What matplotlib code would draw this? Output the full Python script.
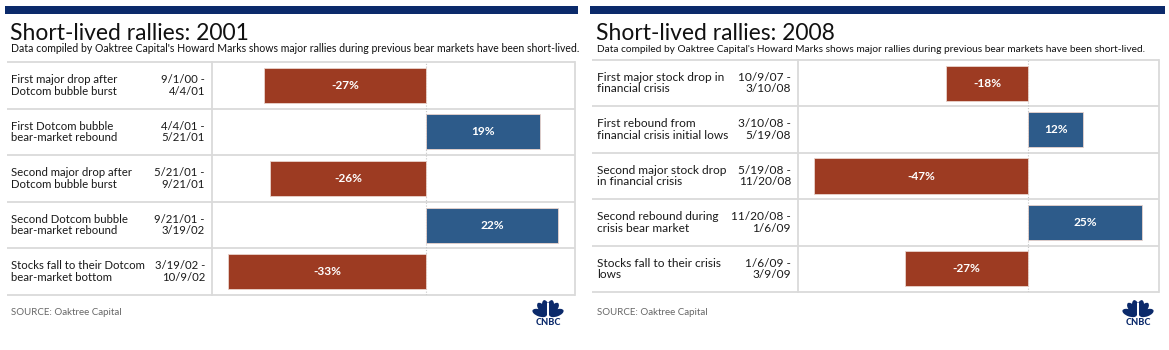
import math
import matplotlib
matplotlib.use("Agg")
import matplotlib.pyplot as plt
from matplotlib.patches import Rectangle, Ellipse

plt.rcParams['font.family'] = ['Lato', 'DejaVu Sans']

# ---------------- data ----------------
titles = ["Short-lived rallies: 2001", "Short-lived rallies: 2008"]
subtitle = "Data compiled by Oaktree Capital's Howard Marks shows major rallies during previous bear markets have been short-lived."
source = "SOURCE: Oaktree Capital"

labels_2001 = ["First major drop after\nDotcom bubble burst",
               "First Dotcom bubble\nbear-market rebound",
               "Second major drop after\nDotcom bubble burst",
               "Second Dotcom bubble\nbear-market rebound",
               "Stocks fall to their Dotcom\nbear-market bottom"]
dates_2001 = ["9/1/00 -\n4/4/01", "4/4/01 -\n5/21/01", "5/21/01 -\n9/21/01",
              "9/21/01 -\n3/19/02", "3/19/02 -\n10/9/02"]
values_2001 = [-27, 19, -26, 22, -33]

labels_2008 = ["First major stock drop in\nfinancial crisis",
               "First rebound from\nfinancial crisis initial lows",
               "Second major stock drop\nin financial crisis",
               "Second rebound during\ncrisis bear market",
               "Stocks fall to their crisis\nlows"]
dates_2008 = ["10/9/07 -\n3/10/08", "3/10/08 -\n5/19/08", "5/19/08 -\n11/20/08",
              "11/20/08 -\n1/6/09", "1/6/09 -\n3/9/09"]
values_2008 = [-18, 12, -47, 25, -27]

# ---------------- style ----------------
W, H = 1169, 350
RED = "#9d3b22"
BLUE = "#2d5b8a"
NAVY = "#0b2a6b"
GRID = "#dadada"
TEXT = "#1a1a1a"

fig = plt.figure(figsize=(W / 100, H / 100), dpi=100)
fig.patch.set_facecolor("white")

# overlay axes in pixel coordinates (y downward)
ov = fig.add_axes([0, 0, 1, 1], zorder=0)
ov.set_xlim(0, W)
ov.set_ylim(H, 0)
ov.axis("off")

panels = [
    dict(x0=5, x1=578, tx=11, div=212, right=575, top=62, bot=295,
         date_x=205, xlim=(-35.67, 24.83), labels=labels_2001, dates=dates_2001,
         values=values_2001, title=titles[0], logo_x=548, fs=8.2, sfs=7.6),
    dict(x0=590, x1=1165, tx=597, div=798, right=1159, top=60, bot=292,
         date_x=791, xlim=(-50.5, 28.66), labels=labels_2008, dates=dates_2008,
         values=values_2008, title=titles[1], logo_x=1138, fs=8.6, sfs=7.25),
]


def fx(px):
    return px / W


def fy(py):
    return 1 - py / H


for p in panels:
    # top navy band
    ov.add_patch(Rectangle((p["x0"], 6), p["x1"] - p["x0"], 7.5, color=NAVY, lw=0))
    # title & subtitle
    ov.text(p["tx"] - 1, 40, p["title"], fontsize=16.5, color="#111111", va="baseline", ha="left")
    ov.text(p["tx"], 52, subtitle, fontsize=p["sfs"], color="#111111", va="baseline", ha="left")

    n = len(p["values"])
    rh = (p["bot"] - p["top"]) / n
    # row lines
    for k in range(n + 1):
        yy = p["top"] + k * rh
        ov.plot([p["x0"] + 2, p["right"]], [yy, yy], color=GRID, lw=1.3, solid_capstyle="butt")
    # vertical divider and right border
    ov.plot([p["div"], p["div"]], [p["top"], p["bot"]], color=GRID, lw=1.3)
    ov.plot([p["right"], p["right"]], [p["top"], p["bot"]], color=GRID, lw=1.3)

    # row texts
    for k in range(n):
        yc = p["top"] + (k + 0.5) * rh
        ov.text(p["tx"], yc, p["labels"][k], fontsize=p["fs"], color=TEXT, va="center",
                ha="left", linespacing=1.05)
        ov.text(p["date_x"], yc, p["dates"][k], fontsize=p["fs"], color=TEXT, va="center",
                ha="right", multialignment="right", linespacing=1.05)

    # bars axes
    ax = fig.add_axes([fx(p["div"]), fy(p["bot"]), fx(p["right"] - p["div"]),
                       (p["bot"] - p["top"]) / H], zorder=2)
    ax.patch.set_alpha(0)
    ax.set_xlim(*p["xlim"])
    ax.set_ylim(n - 0.5, -0.5)
    ax.axis("off")
    ax.axvline(0, color="#c8c8c8", lw=0.8, ls=(0, (1, 1.5)), zorder=0)
    ys = list(range(n))
    cols = [RED if v < 0 else BLUE for v in p["values"]]
    ax.barh(ys, p["values"], height=0.755, color=cols, edgecolor="#e9d3cc", linewidth=0.6, zorder=2)
    for yv, v in zip(ys, p["values"]):
        ax.text(v / 2, yv, f"{v}%", color="white", fontsize=8.6, fontweight="bold",
                ha="center", va="center", zorder=3)

    # source
    ov.text(p["tx"], 315, source, fontsize=7, color="#666666", va="baseline", ha="left")

    # CNBC peacock logo (simplified)
    cx, cy = p["logo_x"], 316
    angs = [160, 128, 104, 76, 52, 20]
    for a in angs:
        r = 9
        ex = cx + r * math.cos(math.radians(a))
        ey = cy - r * math.sin(math.radians(a)) * 0.98
        ov.add_patch(Ellipse((ex, ey), 15, 7, angle=-a, color=NAVY, lw=0))
    ov.add_patch(Rectangle((cx - 1.0, 303), 2.0, 14, color="white", lw=0, zorder=3))
    ov.text(cx, 325, "CNBC", fontsize=6.6, fontweight="black", color=NAVY, ha="center",
            va="baseline")

fig.savefig("out.png", dpi=100, facecolor="white")
